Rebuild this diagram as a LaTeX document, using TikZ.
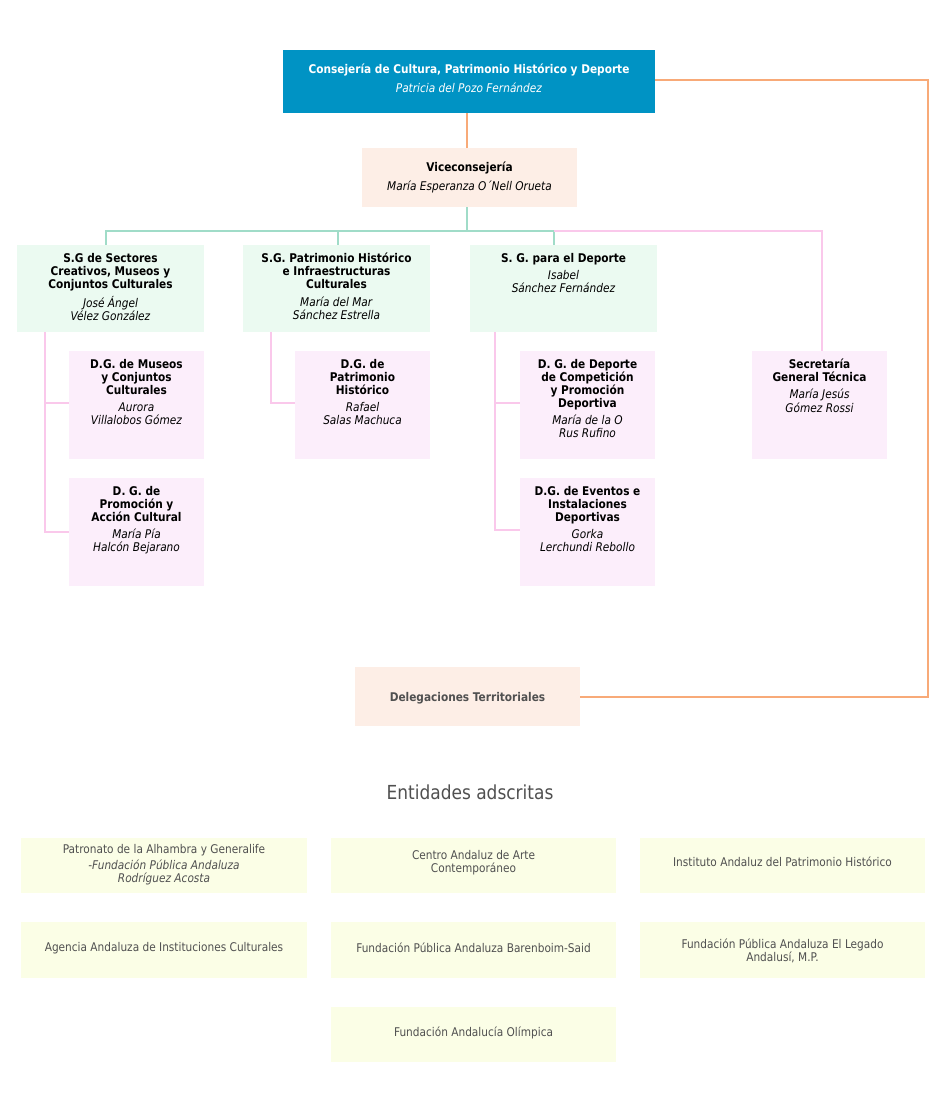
\documentclass[tikz,border=0pt]{standalone}
\usepackage{fontspec}
\setmainfont{DejaVu Sans}[FakeStretch=0.88]
\usetikzlibrary{positioning,calc}
\definecolor{topblue}{RGB}{0,147,196}
\definecolor{peach}{RGB}{253,238,230}
\definecolor{mint}{RGB}{235,250,241}
\definecolor{lilac}{RGB}{252,238,251}
\definecolor{lemon}{RGB}{251,254,230}
\definecolor{orangeline}{RGB}{248,170,120}
\definecolor{greenline}{RGB}{160,220,200}
\definecolor{pinkline}{RGB}{250,200,235}
\definecolor{graytext}{RGB}{80,80,80}
\tikzset{
  box/.style={fill=#1,inner sep=0pt,outer sep=0pt,draw=none},
  boxtext/.style={align=center,inner sep=0pt,font=\fontsize{9}{9.8}\selectfont,anchor=north},
  orangeln/.style={draw=orangeline,line width=1.3pt},
  greenln/.style={draw=greenline,line width=1.3pt},
  pinkln/.style={draw=pinkline,line width=1.3pt},
}
\def\toff{8}
\newcommand{\orgbox}[7]{%
  \path[box=#6] (#2,#3) rectangle (#4,#5);
  \node[boxtext] (#1) at ($(#2,#3)!0.5!(#4,#3)+(0,\toff)$) {#7};}
\begin{document}
\begin{tikzpicture}[x=0.75pt,y=-0.75pt]
\useasboundingbox (0,0) rectangle (940,1119);
% connectors first
\coordinate (c1) at (928,80);
\coordinate (c2) at (928,697);
\draw[orangeln] (655,80) -- (c1) -- (c2) -- (580,697);
\draw[orangeln] (467,113) -- (467,148);
\draw[greenln] (467,207) -- (467,231);
\draw[greenln] (106,245) -- (106,231) -- (554,231) -- (554,245);
\draw[greenln] (338,231) -- (338,245);
\draw[pinkln] (554,231) -- (822,231) -- (822,351);
\draw[pinkln] (45,332) -- (45,532) -- (69,532);
\draw[pinkln] (45,403) -- (69,403);
\draw[pinkln] (271,332) -- (271,403) -- (295,403);
\draw[pinkln] (495,332) -- (495,530) -- (520,530);
\draw[pinkln] (495,403) -- (520,403);
% boxes
\def\toff{14}
\orgbox{cons}{283}{50}{655}{113}{topblue}{\color{white}\textbf{Consejería de Cultura, Patrimonio Histórico y Deporte}\\[4pt]\color{white}\textit{Patricia del Pozo Fernández}}
\orgbox{vice}{362}{148}{577}{207}{peach}{\textbf{Viceconsejería}\\[4pt]\textit{María Esperanza O´Nell Orueta}}
\def\toff{8}
\orgbox{sgsect}{17}{245}{204}{332}{mint}{\textbf{S.G de Sectores}\\\textbf{Creativos, Museos y}\\\textbf{Conjuntos Culturales}\\[3pt]\textit{José Ángel}\\\textit{Vélez González}}
\orgbox{sgpat}{243}{245}{430}{332}{mint}{\textbf{S.G. Patrimonio Histórico}\\\textbf{e Infraestructuras}\\\textbf{Culturales}\\[3pt]\textit{María del Mar}\\\textit{Sánchez Estrella}}
\orgbox{sgdep}{470}{245}{657}{332}{mint}{\textbf{S. G. para el Deporte}\\[3pt]\textit{Isabel}\\\textit{Sánchez Fernández}}
\orgbox{dgmus}{69}{351}{204}{459}{lilac}{\textbf{D.G. de Museos}\\\textbf{y Conjuntos}\\\textbf{Culturales}\\[3pt]\textit{Aurora}\\\textit{Villalobos Gómez}}
\orgbox{dgprom}{69}{478}{204}{586}{lilac}{\textbf{D. G. de}\\\textbf{Promoción y}\\\textbf{Acción Cultural}\\[3pt]\textit{María Pía}\\\textit{Halcón Bejarano}}
\orgbox{dgpat}{295}{351}{430}{459}{lilac}{\textbf{D.G. de}\\\textbf{Patrimonio}\\\textbf{Histórico}\\[3pt]\textit{Rafael}\\\textit{Salas Machuca}}
\orgbox{dgcomp}{520}{351}{655}{459}{lilac}{\textbf{D. G. de Deporte}\\\textbf{de Competición}\\\textbf{y Promoción}\\\textbf{Deportiva}\\[3pt]\textit{María de la O}\\\textit{Rus Rufino}}
\orgbox{dgevt}{520}{478}{655}{586}{lilac}{\textbf{D.G. de Eventos e}\\\textbf{Instalaciones}\\\textbf{Deportivas}\\[3pt]\textit{Gorka}\\\textit{Lerchundi Rebollo}}
\orgbox{sgt}{752}{351}{887}{459}{lilac}{\textbf{Secretaría}\\\textbf{General Técnica}\\[3pt]\textit{María Jesús}\\\textit{Gómez Rossi}}
\path[box=peach] (355,667) rectangle (580,726);
\node[boxtext,anchor=center,text=graytext] (deleg) at (467.5,698) {\textbf{Delegaciones Territoriales}};
\node[font=\fontsize{14.5}{16}\selectfont,text=graytext,inner sep=0pt] (entid) at (470,792) {Entidades adscritas};
% entidades
\path[box=lemon] (21,838) rectangle (307,893);
\node[boxtext,text=graytext] (alh) at (164,844) {Patronato de la Alhambra y Generalife\\[2pt]\textit{-Fundación Pública Andaluza}\\\textit{Rodríguez Acosta}};
\path[box=lemon] (331,838) rectangle (616,893);
\node[boxtext,anchor=center,text=graytext] (caac) at (473.5,863) {Centro Andaluz de Arte\\Contemporáneo};
\path[box=lemon] (640,838) rectangle (925,893);
\node[boxtext,anchor=center,text=graytext] (iaph) at (782.5,862) {Instituto Andaluz del Patrimonio Histórico};
\path[box=lemon] (21,922) rectangle (307,978);
\node[boxtext,anchor=center,text=graytext] (aaic) at (164,948) {Agencia Andaluza de Instituciones Culturales};
\path[box=lemon] (331,922) rectangle (616,978);
\node[boxtext,anchor=center,text=graytext] (bar) at (473.5,948) {Fundación Pública Andaluza Barenboim-Said};
\path[box=lemon] (640,922) rectangle (925,978);
\node[boxtext,anchor=center,text=graytext] (leg) at (782.5,951) {Fundación Pública Andaluza El Legado\\Andalusí, M.P.};
\path[box=lemon] (331,1007) rectangle (616,1062);
\node[boxtext,anchor=center,text=graytext] (olim) at (473.5,1033) {Fundación Andalucía Olímpica};
\end{tikzpicture}
\end{document}
